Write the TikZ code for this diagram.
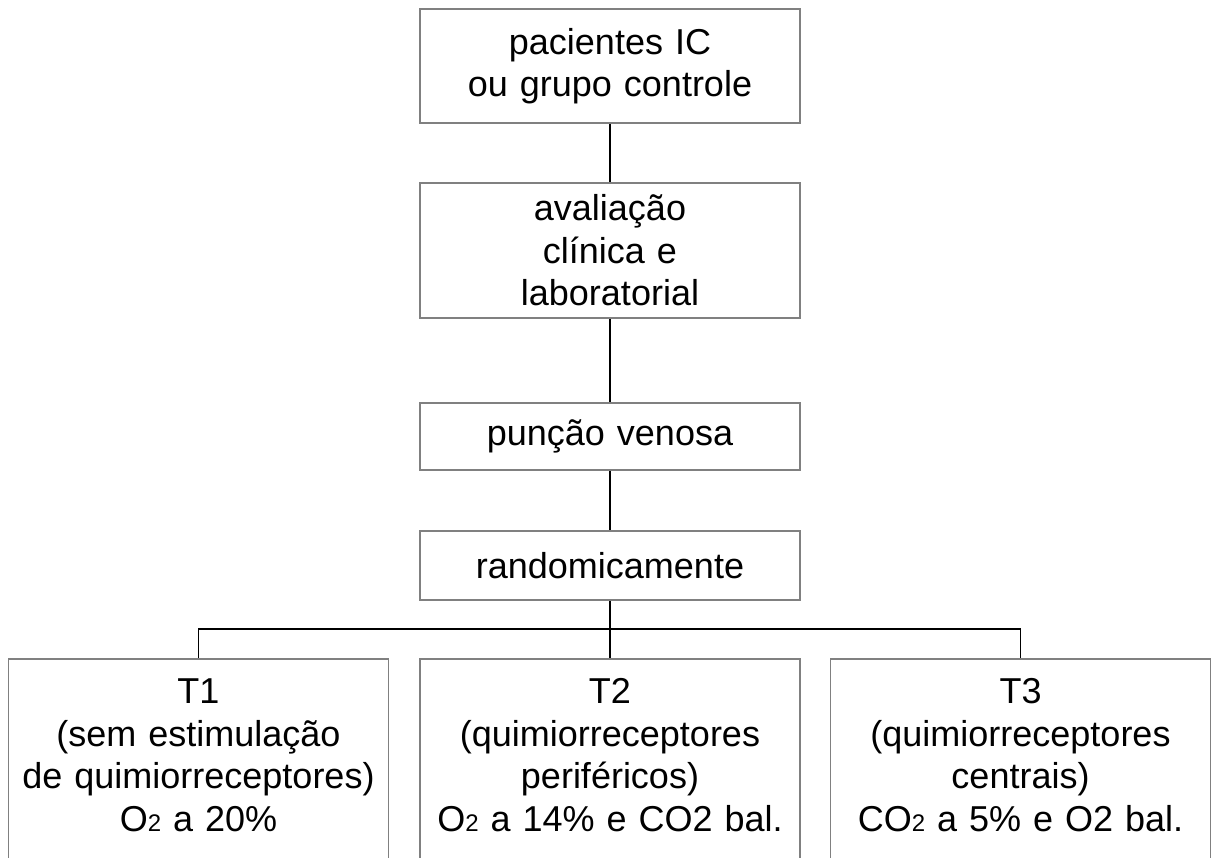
\documentclass[tikz,border=0pt]{standalone}
\usepackage{fontspec}
\setmainfont{Liberation Sans}
\usepackage{tikz}
\usetikzlibrary{positioning}

% small index digit, sits on the baseline
\newcommand{\smallnum}[1]{{\fontsize{24}{24}\selectfont #1}}
% invisible strut so the lower boxes run past the page edge
\newcommand{\fundo}{\rule[-90pt]{0pt}{90pt}}

\tikzset{
	caixa/.style={draw=black!50, line width=1.6pt, minimum width=380pt, text width=372pt, align=center, inner sep=0pt, font=\fontsize{36}{42.5}\selectfont},
	teste/.style={caixa, anchor=north, inner ysep=20pt},
	ligacao/.style={draw=black, line width=1.6pt}
}

\begin{document}
\begin{tikzpicture}[x=1pt,y=-1pt]
			\useasboundingbox (0,0) rectangle (1215,857);
			\clip (0,0) rectangle (1215,857);
			\node[caixa, minimum height=114pt] (pacientes) at (610,66) {pacientes IC\\ou grupo controle};
			\node[caixa, minimum height=135pt] (avaliacao) at (610,250.5) {avaliação\\clínica e\\laboratorial};
			\node[caixa, minimum height=67pt] (puncao) at (610,436.5) {punção venosa};
			\node[caixa, minimum height=69pt] (random) at (610,565.5) {randomicamente};
			% tres testes
			\node[teste] (t1) at (198.5,658) {T1\\(sem estimulação\\de quimiorreceptores)\\O\smallnum{2} a 20\%\fundo};
			\node[teste] (t2) at (610,658) {T2\\(quimiorreceptores\\periféricos)\\O\smallnum{2} a 14\% e CO2 bal.\fundo};
			\node[teste] (t3) at (1020.5,658) {T3\\(quimiorreceptores\\centrais)\\CO\smallnum{2} a 5\% e O2 bal.\fundo};
			\coordinate (barra) at (610,629);
			\draw[ligacao] (pacientes) -- (avaliacao);
			\draw[ligacao] (avaliacao) -- (puncao);
			\draw[ligacao] (puncao) -- (random);
			\draw[ligacao] (random) -- (t2);
			\draw[ligacao] (t1.north) |- (barra) -| (t3.north);
		\end{tikzpicture}
\end{document}
